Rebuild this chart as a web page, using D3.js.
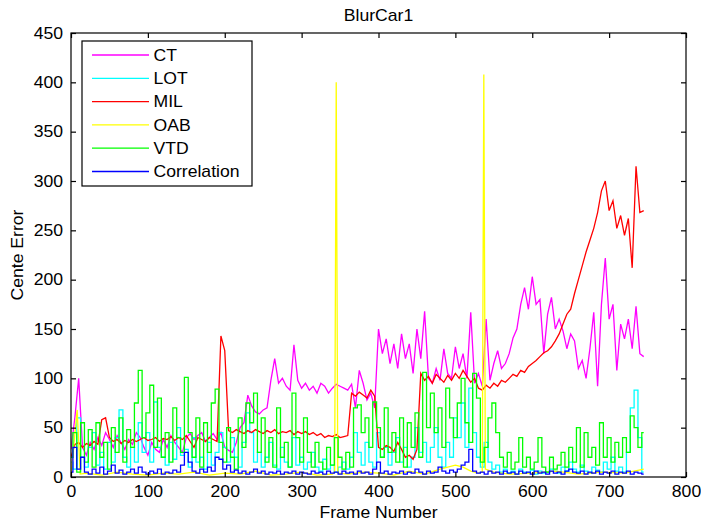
<!DOCTYPE html>
<html>
<head>
<meta charset="utf-8">
<script src="https://cdn.jsdelivr.net/npm/d3@7/dist/d3.min.js"></script>
<style>
  html, body { margin: 0; padding: 0; background: #fff; }
  svg { display: block; }
  text { font-family: "Liberation Sans", Arial, Helvetica, sans-serif; fill: #000; }
</style>
</head>
<body>
<svg id="chart" width="701" height="523"></svg>
<script>
// Centre error per tracker on the BlurCar1 sequence, sampled every 5 frames.
const sampledFrames = d3.range(0, 750, 5);

const ctError = [
  28,60,100,30,22,35,28,40,32,45,
  38,30,42,35,28,38,33,45,40,30,
  22,35,28,25,38,30,42,35,30,25,
  40,44,38,42,45,36,40,44,38,45,
  30,27,25,35,50,55,83,72,66,64,
  68,70,98,120,95,100,92,88,134,98,
  90,95,88,92,85,95,92,85,90,94,
  92,90,88,94,70,108,95,78,85,70,
  150,125,140,115,135,110,145,120,135,105,
  150,120,168,100,95,110,98,130,105,100,
  132,110,125,100,167,95,105,92,160,98,
  115,128,110,115,125,141,150,175,192,170,
  203,175,180,125,165,182,150,160,148,130,
  145,138,110,118,100,130,167,92,175,222,
  160,175,108,155,140,160,130,173,125,122
];

const lotError = [
  15,8,60,20,10,30,45,12,25,8,
  35,15,40,68,20,10,30,15,55,25,
  45,15,76,30,20,12,35,18,50,22,
  28,10,40,15,20,8,35,12,25,45,
  30,15,40,20,10,35,65,45,15,25,
  10,20,35,12,8,30,15,10,40,12,
  20,8,15,25,10,6,18,8,12,5,
  10,15,8,20,45,25,12,35,15,10,
  45,20,30,12,25,40,15,30,10,20,
  50,25,35,15,30,50,20,10,35,20,
  60,40,75,30,90,45,20,10,35,15,
  8,12,5,8,4,6,3,8,5,4,
  7,3,6,4,5,8,6,4,10,6,
  15,8,5,12,6,4,10,7,5,15,
  8,20,6,10,5,25,70,88,40,5
];

const milError = [
  20,33,35,30,34,32,36,33,58,60,
  40,36,38,34,37,35,38,36,38,40,
  37,38,40,36,39,38,41,37,40,38,
  42,36,30,40,38,36,40,38,36,143,
  128,47,45,48,46,44,47,45,48,46,
  44,47,45,48,44,46,45,47,43,46,
  44,46,43,45,42,44,40,42,41,43,
  40,41,42,85,82,86,83,80,88,82,
  30,28,32,30,26,35,28,20,22,18,
  28,105,98,102,95,104,100,96,103,98,
  105,100,108,102,96,100,90,88,93,90,
  95,92,98,96,100,104,102,108,106,112,
  115,118,122,126,128,132,138,145,155,165,
  170,186,200,214,228,240,252,268,290,300,
  270,280,252,265,245,262,212,315,268,270
];

// OAB is mostly flat, with two one-frame failures; it keeps its own frame list.
const oabFrames = [0,8,12,20,40,60,80,100,120,140,160,180,200,220,240,260,280,300,320,340,
  343,344,345,346,347,360,380,400,420,440,460,480,500,510,520,530,535,536,537,538,539,
  550,570,600,630,660,690,720,745];
const oabError = [2,68,3,4,2,5,3,2,4,3,5,2,4,3,6,2,3,5,2,3,
  5,205,400,205,4,3,5,4,2,6,3,8,12,10,6,4,5,205,408,205,
  8,5,3,4,6,3,5,4,8];

const vtdError = [
  20,45,5,55,15,48,10,55,20,35,
  8,50,25,60,15,48,30,75,108,40,
  65,93,30,80,20,45,15,70,40,25,
  101,45,20,60,10,55,25,75,89,35,
  15,50,20,8,60,30,75,55,85,25,
  60,15,40,10,70,20,35,10,85,40,
  15,60,25,10,35,15,8,30,12,40,
  20,8,25,10,70,73,45,60,30,76,
  50,20,70,25,45,15,60,10,55,30,
  65,20,106,50,85,45,70,30,90,60,
  40,75,100,55,35,105,80,15,30,60,
  75,45,20,10,25,8,15,40,10,20,
  8,15,40,10,5,20,8,12,25,10,
  30,15,50,10,45,20,30,12,55,20,
  40,15,35,20,40,25,62,50,30,45
];

const correlationError = [
  5,30,8,20,5,3,8,4,10,3,
  6,12,4,7,3,5,8,4,10,5,
  3,6,4,8,3,5,4,7,5,12,
  25,15,6,4,8,5,10,6,20,18,
  8,12,5,7,4,6,3,5,8,4,
  6,3,5,4,6,3,5,4,6,3,
  5,4,3,6,4,5,3,6,4,5,
  3,6,4,5,3,6,4,5,3,8,
  15,4,6,3,5,4,6,3,5,4,
  8,5,3,6,4,5,10,6,4,7,
  5,8,12,15,28,6,4,5,3,6,
  4,5,3,6,4,5,3,6,4,5,
  3,6,4,5,3,6,4,5,3,6,
  8,5,4,6,3,5,4,6,3,5,
  4,6,3,5,4,6,3,5,4,3
];

const trackerNames = ["CT", "LOT", "MIL", "OAB", "VTD", "Correlation"];
const trackerColors = ["#ff00ff", "#00ffff", "#ff0000", "#ffff00", "#00ff00", "#0000ff"];
const xTicks = [0,100,200,300,400,500,600,700,800];
const yTicks = [0,50,100,150,200,250,300,350,400,450];

const series = [
  { frames: sampledFrames, values: ctError, stepped: false },
  { frames: sampledFrames, values: lotError, stepped: true },
  { frames: sampledFrames, values: milError, stepped: false },
  { frames: oabFrames, values: oabError, stepped: false },
  { frames: sampledFrames, values: vtdError, stepped: true },
  { frames: sampledFrames, values: correlationError, stepped: true }
];

const svg = d3.select("#chart");
const plot = { left: 71, right: 686, top: 33, bottom: 477 };
const stretch = 1.1;   // glyphs are drawn slightly wide
const fontSize = 16;

const x = d3.scaleLinear().domain([0, 800]).range([plot.left, plot.right]);
const y = d3.scaleLinear().domain([0, 450]).range([plot.bottom, plot.top]);

svg.append("defs").append("clipPath").attr("id", "plotClip")
  .append("rect").attr("x", plot.left).attr("y", plot.top)
  .attr("width", plot.right - plot.left).attr("height", plot.bottom - plot.top);

// tracker curves, first listed drawn first; the spiky ones hold each sample
const lineGen = (s) => d3.line()
  .curve(s.stepped ? d3.curveStep : d3.curveLinear)
  .x((d, i) => x(s.frames[i]))
  .y(d => y(d))(s.values);

const curves = svg.append("g").attr("clip-path", "url(#plotClip)");
series.forEach((s, k) => {
  curves.append("path")
    .attr("d", lineGen(s))
    .attr("fill", "none")
    .attr("stroke", trackerColors[k])
    .attr("stroke-width", 1.3)
    .attr("stroke-linejoin", "miter");
});

// axes box
svg.append("rect")
  .attr("x", plot.left).attr("y", plot.top)
  .attr("width", plot.right - plot.left).attr("height", plot.bottom - plot.top)
  .attr("fill", "none").attr("stroke", "#000").attr("stroke-width", 1.2);

function styleAxis(g) {
  g.select(".domain").remove();
  g.selectAll(".tick line").attr("stroke", "#000").attr("stroke-width", 1.2);
  g.selectAll(".tick text").attr("font-size", fontSize).attr("fill", "#000")
    .attr("font-family", "Liberation Sans, Arial, sans-serif");
}

const xAxis = svg.append("g").attr("transform", `translate(0,${plot.bottom})`)
  .call(d3.axisBottom(x).tickValues(xTicks).tickFormat(d3.format("d"))
    .tickSizeInner(-5).tickSizeOuter(0).tickPadding(9));
styleAxis(xAxis);
xAxis.selectAll(".tick text").attr("transform", `scale(${stretch},1)`);

const yAxis = svg.append("g").attr("transform", `translate(${plot.left},0)`)
  .call(d3.axisLeft(y).tickValues(yTicks).tickFormat(d3.format("d"))
    .tickSizeInner(-5).tickSizeOuter(0).tickPadding(8));
styleAxis(yAxis);
yAxis.selectAll(".tick text")
  .attr("x", -8 / stretch)
  .attr("transform", `scale(${stretch},1)`);

const topAxis = svg.append("g").attr("transform", `translate(0,${plot.top})`)
  .call(d3.axisTop(x).tickValues(xTicks).tickFormat("").tickSizeInner(-5).tickSizeOuter(0));
styleAxis(topAxis);

const rightAxis = svg.append("g").attr("transform", `translate(${plot.right},0)`)
  .call(d3.axisRight(y).tickValues(yTicks).tickFormat("").tickSizeInner(-5).tickSizeOuter(0));
styleAxis(rightAxis);

function wideText(parent, tx, ty, str, anchor, rotate) {
  const g = parent.append("g")
    .attr("transform", `translate(${tx},${ty})` + (rotate ? ` rotate(${rotate})` : "") + ` scale(${stretch},1)`);
  g.append("text").attr("text-anchor", anchor).attr("font-size", fontSize).text(str);
  return g;
}

// title and axis labels
wideText(svg, (plot.left + plot.right) / 2, 21, "BlurCar1", "middle");
wideText(svg, (plot.left + plot.right) / 2, 518, "Frame Number", "middle");
wideText(svg, 23, (plot.top + plot.bottom) / 2, "Cente Error", "middle", -90);

// legend
const legend = svg.append("g");
legend.append("rect")
  .attr("x", 82).attr("y", 41).attr("width", 170).attr("height", 145)
  .attr("fill", "#fff").attr("stroke", "#000").attr("stroke-width", 1.2);
trackerNames.forEach((name, k) => {
  const ly = 55 + k * 23.3;
  legend.append("line")
    .attr("x1", 92).attr("x2", 149).attr("y1", ly).attr("y2", ly)
    .attr("stroke", trackerColors[k]).attr("stroke-width", 1.3);
  wideText(legend, 153.5, ly + 5.6, name, "start");
});
</script>
</body>
</html>
